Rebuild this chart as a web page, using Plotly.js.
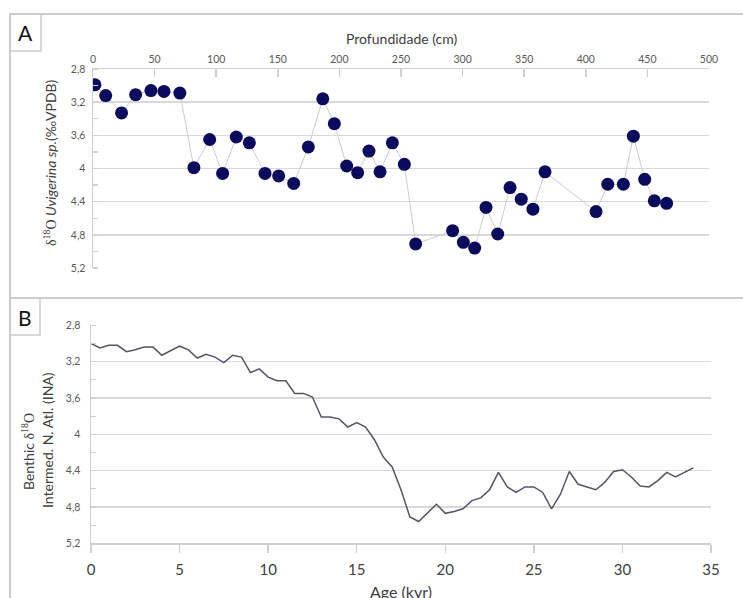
<!DOCTYPE html>
<html>
<head>
<meta charset="utf-8">
<script src="https://cdn.plot.ly/plotly-3.0.1.min.js"></script>
<style>html,body{margin:0;padding:0;background:#fff;}#chart{width:743px;height:598px;}</style>
</head>
<body>
<div id="chart"></div>
<script>
// Panel A: depth (cm) vs d18O Uvigerina
const depthCm = [1.6,10.3,23.2,34.6,47,57.6,70.5,81.9,94.7,105.2,116.3,126.9,139.6,150.7,162.9,174.8,186.5,195.9,205.9,214.8,224,233,243,252.7,261.9,291.9,300.6,309.8,319,328.5,338.5,347.6,357.1,366.9,408.3,417.8,430.5,438.6,447.8,455.6,465.6];
const d18oUvigerina = [2.99,3.12,3.33,3.11,3.06,3.07,3.09,3.99,3.65,4.06,3.62,3.69,4.06,4.09,4.18,3.74,3.16,3.46,3.97,4.05,3.79,4.04,3.69,3.95,4.91,4.75,4.89,4.96,4.47,4.79,4.23,4.37,4.49,4.04,4.52,4.19,4.19,3.61,4.13,4.39,4.42];

// Panel B: age (kyr) vs benthic d18O (INA)
const ageKyr = [0,0.5,1,1.5,2,2.5,3,3.5,4,4.5,5,5.5,6,6.5,7,7.5,8,8.5,9,9.5,10,10.5,11,11.5,12,12.5,13,13.5,14,14.5,15,15.5,16,16.5,17,17.5,18,18.5,19,19.5,20,20.5,21,21.5,22,22.5,23,23.5,24,24.5,25,25.5,26,26.5,27,27.5,28,28.5,29,29.5,30,30.5,31,31.5,32,32.5,33,33.5,34];
const benthicINA = [3.00,3.05,3.02,3.02,3.09,3.07,3.04,3.04,3.13,3.08,3.03,3.07,3.16,3.12,3.15,3.21,3.13,3.15,3.32,3.28,3.37,3.41,3.41,3.55,3.55,3.59,3.81,3.81,3.83,3.92,3.87,3.92,4.06,4.25,4.36,4.61,4.91,4.96,4.86,4.77,4.87,4.85,4.82,4.73,4.70,4.61,4.42,4.58,4.64,4.58,4.58,4.64,4.82,4.66,4.41,4.55,4.58,4.61,4.53,4.41,4.39,4.47,4.57,4.58,4.51,4.42,4.47,4.42,4.37];

const yTicks = [2.8,3.2,3.6,4,4.4,4.8,5.2];

const W = 743, H = 598;
const px = x => x / W;
const py = y => 1 - y / H;

const FONT = 'Lato, "Open Sans", sans-serif';
const GRID = '#d9d9d9';
const AXC = '#cfcfcf';
const TICKC = '#595959';

const traces = [
  {
    x: depthCm, y: d18oUvigerina, xaxis: 'x', yaxis: 'y',
    type: 'scatter', mode: 'lines+markers',
    line: {color: '#cdcdcd', width: 1},
    marker: {color: '#0b0b5e', size: 13, line: {width: 0}},
    hoverinfo: 'x+y'
  },
  {
    x: ageKyr, y: benthicINA, xaxis: 'x2', yaxis: 'y2',
    type: 'scatter', mode: 'lines',
    line: {color: '#555566', width: 1.5},
    hoverinfo: 'x+y'
  }
];

const yCommon = {
  range: [5.2, 2.8], tickvals: yTicks, ticks: '',
  showgrid: true, gridcolor: GRID, gridwidth: 1.5,
  showline: true, linecolor: AXC, linewidth: 1.5,
  zeroline: false,
  tickfont: {family: FONT, size: 10.5, color: TICKC},
  minor: {ticks: 'inside', ticklen: 5, tickcolor: AXC, tickwidth: 1.2, dtick: 0.2, showgrid: false}
};

const layout = {
  width: W, height: H,
  margin: {l: 0, r: 0, t: 0, b: 0},
  paper_bgcolor: '#fff', plot_bgcolor: '#fff',
  showlegend: false,
  separators: ', ',
  font: {family: FONT},
  xaxis: {
    domain: [px(93), px(709)], anchor: 'y', side: 'top',
    range: [0, 500], dtick: 50, tick0: 0,
    ticks: 'inside', ticklen: 8, tickcolor: AXC, tickwidth: 1.5,
    showline: true, linecolor: AXC, linewidth: 1.5,
    showgrid: false, zeroline: false,
    tickfont: {family: FONT, size: 10.5, color: TICKC}
  },
  yaxis: Object.assign({}, yCommon, {domain: [py(268), py(69)], anchor: 'x', ticklabelstandoff: 4}),
  xaxis2: {
    domain: [px(91), px(711)], anchor: 'y2', side: 'bottom',
    range: [0, 35], dtick: 5, tick0: 0,
    ticks: 'outside', ticklen: 8, tickcolor: AXC, tickwidth: 1.5,
    showline: true, linecolor: AXC, linewidth: 1.5,
    showgrid: false, zeroline: false,
    tickfont: {family: FONT, size: 15, color: '#404040'},
    ticklabelstandoff: 4
  },
  yaxis2: Object.assign({}, yCommon, {domain: [py(543.3), py(325.3)], anchor: 'x2', ticklabelstandoff: 7}),
  shapes: [
    {type: 'rect', xref: 'paper', yref: 'paper', x0: px(10), x1: px(760), y0: py(298), y1: py(14), line: {color: '#cccccc', width: 2}},
    {type: 'rect', xref: 'paper', yref: 'paper', x0: px(10), x1: px(760), y0: py(620), y1: py(298), line: {color: '#cccccc', width: 2}},
    {type: 'rect', xref: 'paper', yref: 'paper', x0: px(10), x1: px(41), y0: py(51), y1: py(14), line: {color: '#cccccc', width: 1.5}},
    {type: 'rect', xref: 'paper', yref: 'paper', x0: px(10), x1: px(40), y0: py(335), y1: py(298), line: {color: '#cccccc', width: 1.5}}
  ],
  annotations: [
    {text: 'A', xref: 'paper', yref: 'paper', x: px(25.5), y: py(33), showarrow: false, xanchor: 'center', yanchor: 'middle', font: {family: FONT, size: 21, color: '#111'}},
    {text: 'B', xref: 'paper', yref: 'paper', x: px(25), y: py(317), showarrow: false, xanchor: 'center', yanchor: 'middle', font: {family: FONT, size: 21, color: '#111'}},
    {text: 'Profundidade (cm)', xref: 'paper', yref: 'paper', x: px(401), y: py(39), showarrow: false, xanchor: 'center', yanchor: 'middle', font: {family: FONT, size: 14, color: '#404040'}},
    {text: '<span style="font-family:\'Liberation Serif\',serif">δ<sup>18</sup>O</span> <i>Uvigerina sp.</i>(‰VPDB)', xref: 'paper', yref: 'paper', x: px(50), y: py(163), textangle: -90, showarrow: false, xanchor: 'center', yanchor: 'middle', font: {family: FONT, size: 14, color: '#404040'}},
    {text: 'Benthic <span style="font-family:\'Liberation Serif\',serif">δ<sup>18</sup>O</span>', xref: 'paper', yref: 'paper', x: px(28), y: py(452), textangle: -90, showarrow: false, xanchor: 'center', yanchor: 'middle', font: {family: FONT, size: 14, color: '#404040'}},
    {text: 'Intermed. N. Atl. (INA)', xref: 'paper', yref: 'paper', x: px(47), y: py(440), textangle: -90, showarrow: false, xanchor: 'center', yanchor: 'middle', font: {family: FONT, size: 14, color: '#404040'}},
    {text: 'Age (kyr)', xref: 'paper', yref: 'paper', x: px(401), y: py(591), showarrow: false, xanchor: 'center', yanchor: 'middle', font: {family: FONT, size: 16, color: '#404040'}}
  ]
};

Plotly.newPlot('chart', traces, layout, {displayModeBar: false, staticPlot: true});
</script>
</body>
</html>
